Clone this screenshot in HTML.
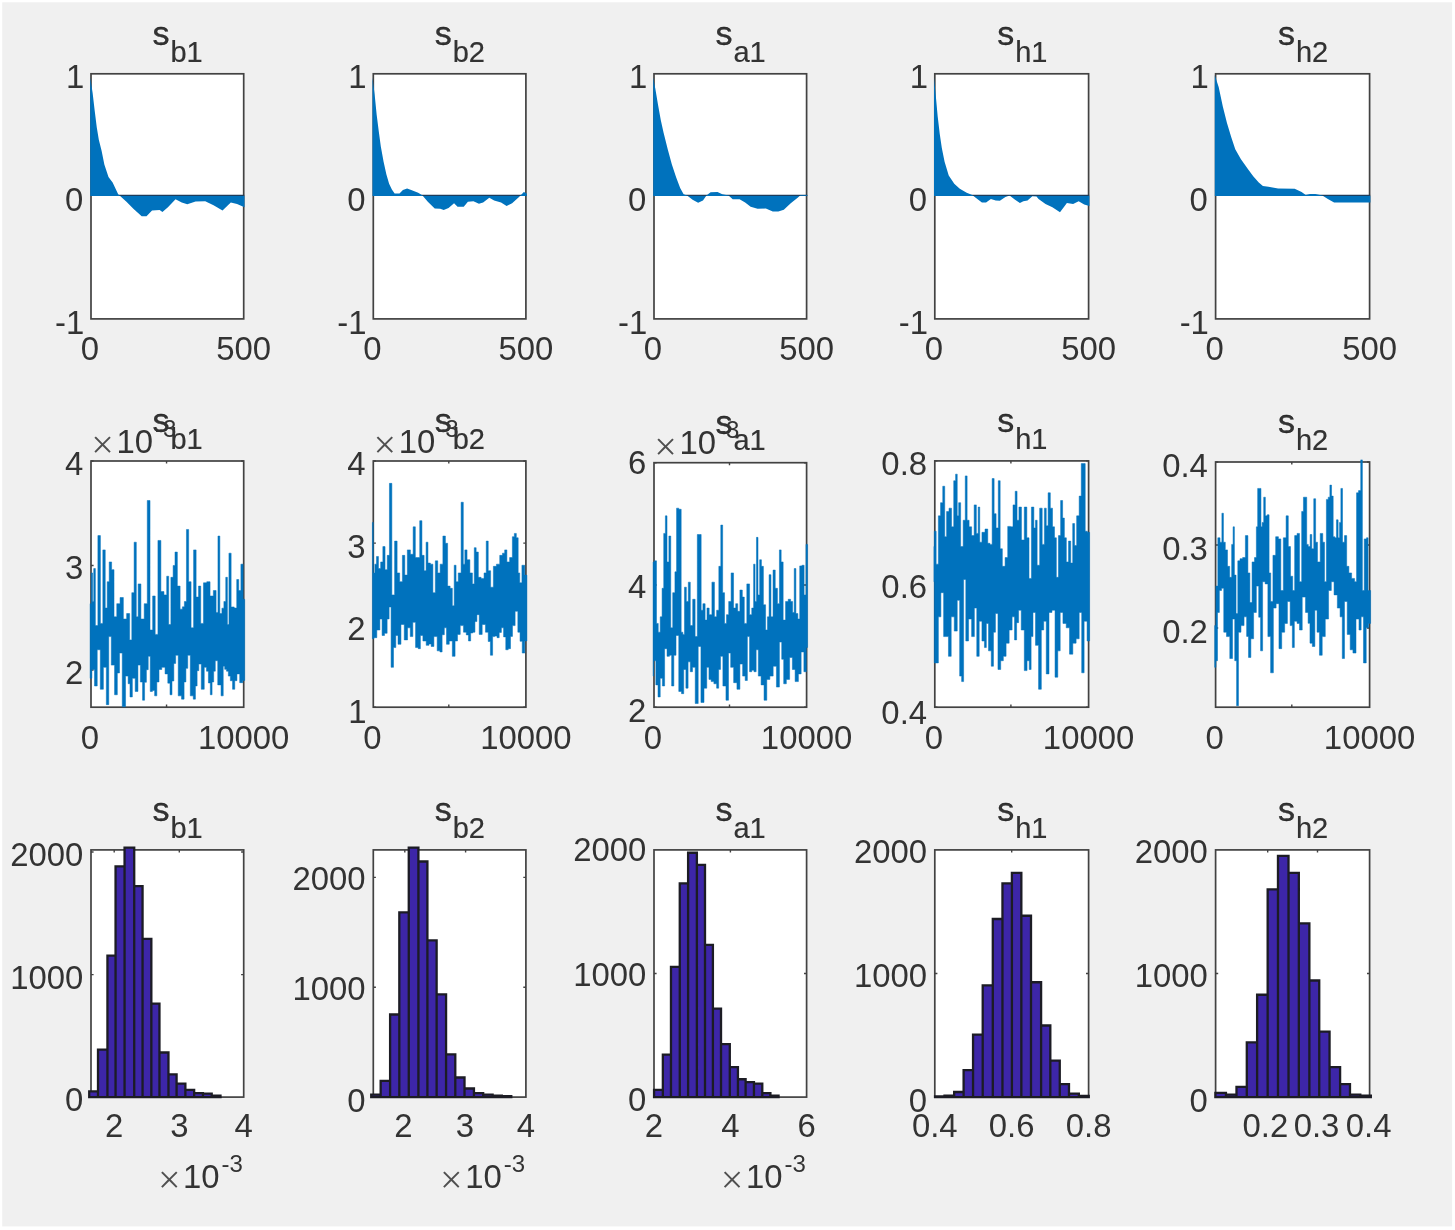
<!DOCTYPE html>
<html lang="en"><head><meta charset="utf-8"><title>MCMC diagnostics</title>
<style>html,body{margin:0;padding:0;background:#fff}body{width:1455px;height:1230px;overflow:hidden}svg{display:block;filter:blur(0.6px)}text{font-family:"Liberation Sans",sans-serif;fill:#333333}.mx{font-family:"Liberation Serif",serif;fill:#505050}</style>
</head><body>
<svg width="1455" height="1230" viewBox="0 0 1455 1230">
<rect width="1455" height="1230" fill="#fff"/>
<rect x="2.2" y="2.3" width="1449.9" height="1224.1" fill="#f0f0f0"/>
<rect x="91" y="73.8" width="152.7" height="245.1" fill="#fff"/>
<rect x="91" y="73.8" width="152.7" height="245.1" fill="none" stroke="#424242" stroke-width="1.7"/>
<path d="M91 195.4H244.3" stroke="#1d3c5c" stroke-width="1.3" fill="none"/>
<path d="M90.2 195.9L90.2 77.44L92.6 92.64L94.67 110.61L96.75 127.2L98.82 139.63L101.59 150.69L104.35 164.51L108.5 176.95L112.64 182.48L118.17 194.23L126.46 201.83L133.37 208.74L141.67 216.34L146.5 216.34L152.03 210.4L159.63 210.12L162.4 211.92L167.93 207.36L175.53 199.34L181.75 202.52L187.28 204.32L195.57 201.55L205.24 201.14L213.54 205.28L222.52 210.4L230.81 202.52L237.03 203.9L244.5 207.36L244.5 195.9Z" fill="#0072BD"/>
<text x="152.4" y="44.6" font-size="34" fill="#000" stroke="#000" stroke-width="0.3">s<tspan font-size="29" stroke-width="0.15" dx="1.0" dy="16.9">b1</tspan></text>
<text x="84.3" y="87.6" font-size="32.9" text-anchor="end">1</text>
<text x="83.3" y="210.55" font-size="32.9" text-anchor="end">0</text>
<text x="84.3" y="334.2" font-size="32.9" text-anchor="end">-1</text>
<text x="90" y="360.3" font-size="32.9" text-anchor="middle">0</text>
<text x="243.7" y="360.3" font-size="32.9" text-anchor="middle">500</text>
<rect x="373.3" y="73.8" width="152.6" height="245.1" fill="#fff"/>
<rect x="373.3" y="73.8" width="152.6" height="245.1" fill="none" stroke="#424242" stroke-width="1.7"/>
<path d="M373.3 195.4H526.5" stroke="#1d3c5c" stroke-width="1.3" fill="none"/>
<path d="M372.5 195.9L372.5 77.44L374.6 94.02L376.67 114.76L378.75 131.34L380.82 146.54L383.59 161.75L386.35 174.19L389.11 183.86L391.88 189.39L394.64 193.54L399.48 193.54L402.93 190.08L407.08 188.42L411.23 190.08L418.14 192.85L422.28 195.2L427.81 201.83L434.72 208.46L440.25 208.74L443.71 210.12L448.54 208.05L454.07 203.21L457.53 206.67L463.75 206.67L467.89 201.83L473.42 201.14L478.95 203.63L483.1 202.52L489.32 197.68L494.15 200.45L501.07 202.52L506.59 205.98L512.12 203.21L519.03 196.99L523.87 191.88L526.7 193.54L526.7 195.9Z" fill="#0072BD"/>
<text x="434.7" y="44.6" font-size="34" fill="#000" stroke="#000" stroke-width="0.3">s<tspan font-size="29" stroke-width="0.15" dx="1.0" dy="16.9">b2</tspan></text>
<text x="366.6" y="87.6" font-size="32.9" text-anchor="end">1</text>
<text x="365.6" y="210.55" font-size="32.9" text-anchor="end">0</text>
<text x="366.6" y="334.2" font-size="32.9" text-anchor="end">-1</text>
<text x="372.3" y="360.3" font-size="32.9" text-anchor="middle">0</text>
<text x="525.9" y="360.3" font-size="32.9" text-anchor="middle">500</text>
<rect x="654" y="73.8" width="152.6" height="245.1" fill="#fff"/>
<rect x="654" y="73.8" width="152.6" height="245.1" fill="none" stroke="#424242" stroke-width="1.7"/>
<path d="M654 195.4H807.2" stroke="#1d3c5c" stroke-width="1.3" fill="none"/>
<path d="M653.2 195.9L653.2 77.44L655.29 88.5L658.06 105.08L660.82 120.28L663.59 132.72L667.73 149.31L671.88 164.51L676.02 176.95L680.17 188.01L683.63 194.23L687.08 195.61L692.61 199.76L698.14 202.8L702.98 200.45L706.43 195.61L710.58 192.15L717.49 191.88L722.33 194.23L728.54 195.61L732.69 199.34L739.6 199.34L745.13 202.52L750.66 206.67L757.57 208.74L765.86 208.46L772.77 211.5L778.3 211.5L783.83 209.85L790.74 203.21L797.65 197.68L800.41 195.2L807.4 195.2L807.4 195.9Z" fill="#0072BD"/>
<text x="715.4" y="44.6" font-size="34" fill="#000" stroke="#000" stroke-width="0.3">s<tspan font-size="29" stroke-width="0.15" dx="1.0" dy="16.9">a1</tspan></text>
<text x="647.3" y="87.6" font-size="32.9" text-anchor="end">1</text>
<text x="646.3" y="210.55" font-size="32.9" text-anchor="end">0</text>
<text x="647.3" y="334.2" font-size="32.9" text-anchor="end">-1</text>
<text x="653" y="360.3" font-size="32.9" text-anchor="middle">0</text>
<text x="806.6" y="360.3" font-size="32.9" text-anchor="middle">500</text>
<rect x="934.8" y="73.8" width="153.8" height="245.1" fill="#fff"/>
<rect x="934.8" y="73.8" width="153.8" height="245.1" fill="none" stroke="#424242" stroke-width="1.7"/>
<path d="M934.8 195.4H1089.2" stroke="#1d3c5c" stroke-width="1.3" fill="none"/>
<path d="M934 195.9L934 77.44L936.02 98.17L937.67 116.14L939.75 134.11L941.82 147.93L944.59 161.75L948.73 175.57L954.26 183.86L959.79 188.7L966.7 192.85L972.23 194.92L975.68 197.68L981.9 202.52L986.05 202.52L990.89 199.07L995.72 200.45L999.87 200.72L1005.4 196.99L1009.54 195.61L1015.07 199.76L1019.91 202.93L1023.37 201.14L1027.51 200.45L1032.35 196.3L1036.5 196.58L1038.57 199.07L1045.48 203.9L1052.39 207.36L1059.99 212.2L1064.14 206.67L1066.9 202.93L1073.12 203.9L1078.65 201.14L1084.18 204.59L1089.4 205.98L1089.4 195.9Z" fill="#0072BD"/>
<text x="997.2" y="44.6" font-size="34" fill="#000" stroke="#000" stroke-width="0.3">s<tspan font-size="29" stroke-width="0.15" dx="1.0" dy="16.9">h1</tspan></text>
<text x="928.1" y="87.6" font-size="32.9" text-anchor="end">1</text>
<text x="927.1" y="210.55" font-size="32.9" text-anchor="end">0</text>
<text x="928.1" y="334.2" font-size="32.9" text-anchor="end">-1</text>
<text x="933.8" y="360.3" font-size="32.9" text-anchor="middle">0</text>
<text x="1088.6" y="360.3" font-size="32.9" text-anchor="middle">500</text>
<rect x="1215.6" y="73.8" width="154" height="245.1" fill="#fff"/>
<rect x="1215.6" y="73.8" width="154" height="245.1" fill="none" stroke="#424242" stroke-width="1.7"/>
<path d="M1215.6 195.4H1370.2" stroke="#1d3c5c" stroke-width="1.3" fill="none"/>
<path d="M1214.8 195.9L1214.8 75.37L1218.67 87.11L1222.82 106.46L1226.97 123.05L1231.11 136.87L1235.26 149.31L1240.79 158.98L1247.7 168.66L1253.23 176.26L1258.76 182.48L1262.9 185.93L1268.43 186.63L1278.11 188.42L1294.69 188.7L1301.6 191.88L1305.75 194.92L1309.89 193.95L1315.42 193.95L1322.33 195.61L1327.86 199.07L1334.08 202.52L1370.4 202.52L1370.4 195.9Z" fill="#0072BD"/>
<text x="1277.9" y="44.6" font-size="34" fill="#000" stroke="#000" stroke-width="0.3">s<tspan font-size="29" stroke-width="0.15" dx="1.0" dy="16.9">h2</tspan></text>
<text x="1208.9" y="87.6" font-size="32.9" text-anchor="end">1</text>
<text x="1207.9" y="210.55" font-size="32.9" text-anchor="end">0</text>
<text x="1208.9" y="334.2" font-size="32.9" text-anchor="end">-1</text>
<text x="1214.6" y="360.3" font-size="32.9" text-anchor="middle">0</text>
<text x="1369.6" y="360.3" font-size="32.9" text-anchor="middle">500</text>
<rect x="91" y="461" width="152.7" height="246.2" fill="#fff"/>
<rect x="91" y="461" width="152.7" height="246.2" fill="none" stroke="#424242" stroke-width="1.7"/>
<path d="M166.55 707.2v-2.6M166.55 461v2.6M91 461h2.6M243.7 461h-2.6M91 565.5h2.6M243.7 565.5h-2.6M91 670h2.6M243.7 670h-2.6" stroke="#424242" stroke-width="1.4" fill="none"/>
<path d="M90.1 603.66V603.66H91.3V572.93H92.62V601.46H93.72V568.54H95.37V625.61H97.89V535.61H100.41V623.41H102.83V549.88H105.24V608.05H107.22V581.71H109.2V561.95H111.61V569.63H114.02V616.83H116.77V603.66H120.06V597.51H123.35V619.02H126.65V613.54H129.61V639.88H131.8V592.68H134.11V542.2H136.3V616.83H138.17V583.9H140.91V619.02H144.21V603.66H147.28V500.49H150.02V630H152.66V595.98H155.18V634.39H157.93V540.44H160.89V591.59H163.96V594.88H166.71V576.22H168.68V624.51H170.88V577.32H173.13V565.46H174.99V552.07H177.35V586.1H180.1V609.15H182.4V606.84H184.38V601.46H186.46V529.46H188.66V581.71H191.07V627.8H193.6V549.88H196.12V597.07H198.54V586.1H200.73V623.41H203.48V582.8H206.77V581.71H210.06V595.98H213.35V590.49H216.1V612.44H217.96V536.05H219.83V613.54H221.91V608.18H223.89V601.46H225.76V577.32H227.4V624.51H228.94V553.17H231.13V606.95H234.21V608.05H236.73V579.51H238.71V590.49H240.9V564.15H243.1V599.27H244.7V680.49H242.77V682.68H239.7V673.9H236.95V680.66H234.76V689.27H232.56V680.76H230.37V676.1H228.35V671.24H226.52V669.37H224.7V666.22H223.23V695.85H221.04V684.88H217.74V660.73H215.29V671.16H213.68V682.01H212.07V694.76H210.32V682.94H208.41V671.23H206.51V667.32H204.24V689.27H201.28V664.02H198.79V670.66H197.11V685.94H195.43V699.15H193.27V695.85H190.3V655.24H187.74V668.36H185.91V681.95H184.09V699.15H181.52V695.85H178.23V655.24H175.67V663.42H173.84V681.03H172.01V694.76H170V683.14H167.8V673.9H165.06V667.32H161.77V669.51H159.02V681.94H156.83V695.85H154.63V690.55H152.44V691.46H150.24V656.34H148.23V669.7H146.4V682.27H144.57V700.24H142.56V682.04H140.37V665.12H137.95V691.46H135.21V678.29H132.35V696.95H129.99V683.73H128.13V676.1H125.55V706.83H122.26V653.05H119.51V672.96H117.32V694.76H114.57V665.12H111.28V636.59H108.76V704.63H106.34V667.32H103.38V689.27H100.3V649.76H97.23V685.98H94.49V669.51H91.85V678.29H90.1Z" fill="#0072BD" stroke="#0072BD" stroke-width="0.5" stroke-linejoin="round"/>
<text x="152.4" y="431.8" font-size="34" fill="#000" stroke="#000" stroke-width="0.3">s<tspan font-size="29" stroke-width="0.15" dx="1.0" dy="16.9">b1</tspan></text>
<text x="91.3" y="457.9" font-size="40" class="mx">×</text>
<text x="116.41" y="452.6" font-size="32.9">10</text>
<text x="154.9" y="436.7" font-size="24">-3</text>
<text x="83.3" y="474.8" font-size="32.9" text-anchor="end">4</text>
<text x="83.3" y="579.3" font-size="32.9" text-anchor="end">3</text>
<text x="83.3" y="684.2" font-size="32.9" text-anchor="end">2</text>
<text x="90" y="749.2" font-size="32.9" text-anchor="middle">0</text>
<text x="243.7" y="749.2" font-size="32.9" text-anchor="middle">10000</text>
<rect x="373.3" y="461" width="152.6" height="246.2" fill="#fff"/>
<rect x="373.3" y="461" width="152.6" height="246.2" fill="none" stroke="#424242" stroke-width="1.7"/>
<path d="M448.8 707.2v-2.6M448.8 461v2.6M373.3 461h2.6M525.9 461h-2.6M373.3 543.1h2.6M525.9 543.1h-2.6M373.3 625.1h2.6M525.9 625.1h-2.6M373.3 707.2h2.6M525.9 707.2h-2.6" stroke="#424242" stroke-width="1.4" fill="none"/>
<path d="M372.4 522.44V522.44H373.3V572.93H374.84V564.15H376.49V556.46H378.46V568.54H380.66V561.95H382.85V546.59H385.05V569.63H387.24V555.37H389.44V483.37H391.85V594.88H394.6V541.1H397.12V572.93H399.65V581.71H402.39V555.37H404.8V575.12H407.33V549.88H410.4V554.27H413.15V526.83H415.34V557.56H417.54V557.56H419.73V520.68H421.93V555.37H424.12V570.73H426.1V542.2H427.96V563.05H430.38V564.15H432.9V592.68H435.32V560.85H437.73V572.93H440.15V564.15H442.89V536.05H445.41V543.29H447.61V586.1H450.13V588.29H452.33V605.85H454.2V565.24H456.06V581.71H458.26V572.93H461.11V502.24H463.3V564.15H464.84V549.88H467.04V559.76H469.89V572.93H472.41V583.9H474.28V547.68H476.15V552.07H478.34V577.32H481.09V578.41H484.05V572.93H486.24V541.1H488.22V570.73H490.63V587.2H493.38V566.34H496.45V564.15H499.74V555.37H502.49V553.17H504.68V549.88H506.88V561.95H509.62V557.56H512.37V536.71H514.34V533.41H516.32V537.8H518.18V572.93H519.72V582.8H521.91V565.24H524.77V575.12H526.9V640.98H524.77V653.05H522.24V641.28H520.05V632.2H517.85V611.34H515.11V625.61H512.48V636.39H510.5V648.66H508.2V649.76H505.78V636.88H503.59V627.8H501.39V632.42H499.2V637.68H497V636.1H494.8V636.59H492.61V655.24H490.41V641.5H488.22V632.2H485.48V624.51H482.18V634.39H479.22V614.63H476.91V621.55H474.94V632.2H472.85V632.99H470.66V640.98H468.46V634.92H466.27V632.2H463.52V625.61H460.23V634.39H457.49V640.98H455.07V656.34H452.33V640.98H449.26V644.27H446.51V627.8H444.32V634.73H442.12V651.95H439.93V650.85H437.18V636.59H433.89V646.46H431.15V643.93H428.95V645.37H426.21V640.98H422.91V635.49H420.39V648.66H418.2V647.56H415.56V622.32H412.82V636.59H410.29V627.8H407.55V639.88H404.26V624.51H400.96V644.27H398V635.49H395.8V647.56H393.5V667.32H391.09V606.95H389.11V618.94H387.13V633.29H384.5V635.49H382.09V619.02H379.89V630H376.82V637.68H373.85V638.78H372.4Z" fill="#0072BD" stroke="#0072BD" stroke-width="0.5" stroke-linejoin="round"/>
<text x="434.7" y="431.8" font-size="34" fill="#000" stroke="#000" stroke-width="0.3">s<tspan font-size="29" stroke-width="0.15" dx="1.0" dy="16.9">b2</tspan></text>
<text x="373.6" y="457.9" font-size="40" class="mx">×</text>
<text x="398.71" y="452.6" font-size="32.9">10</text>
<text x="437.2" y="436.7" font-size="24">-3</text>
<text x="365.6" y="475" font-size="32.9" text-anchor="end">4</text>
<text x="365.6" y="558.1" font-size="32.9" text-anchor="end">3</text>
<text x="365.6" y="640.2" font-size="32.9" text-anchor="end">2</text>
<text x="366.6" y="723.4" font-size="32.9" text-anchor="end">1</text>
<text x="372.3" y="749.2" font-size="32.9" text-anchor="middle">0</text>
<text x="525.9" y="749.2" font-size="32.9" text-anchor="middle">10000</text>
<rect x="654" y="462.7" width="152.6" height="244.5" fill="#fff"/>
<rect x="654" y="462.7" width="152.6" height="244.5" fill="none" stroke="#424242" stroke-width="1.7"/>
<path d="M729.5 707.2v-2.6M729.5 462.7v2.6M654 462.7h2.6M806.6 462.7h-2.6M654 585h2.6M806.6 585h-2.6M654 707.2h2.6M806.6 707.2h-2.6" stroke="#424242" stroke-width="1.4" fill="none"/>
<path d="M653.1 561.95V561.95H654.51V560.85H656.49V623.41H658.24V632.2H660.22V616.83H662.09V588.29H663.73V533.41H665.38V515.85H667.02V561.95H668.89V536.05H670.76V627.8H672.73V592.68H674.93V571.83H676.57V508.17H678.77V509.27H681.18V632.2H682.83V634.39H684.48V587.2H686.34V601.46H688.32V582.15H690.29V625.61H692.71V599.27H695.12V636.59H697.32V534.51H699.51V534.51H701.16V610.24H702.91V603.66H705.11V620.12H706.98V608.05H709.17V614.63H711.91V582.15H714.44V616.83H716.63V610.24H718.83V566.34H720.8V525.07H722.67V592.68H724.54V623.41H726.51V614.63H728.71V601.46H731.12V572.93H733.54V608.05H735.73V603.66H737.71V611.34H739.9V590.05H742.32V597.07H744.29V623.41H746.82V583.9H749.56V614.63H751.76V608.05H753.62V564.15H755.05V601.46H756.48V537.37H758.01V594.88H759.66V559.76H761.41V566.34H763.39V604.76H765.59V630H767.45V616.83H769.1V574.68H770.96V616.83H773.05V570.07H775.24V588.29H777.44V603.66H779.41V549.88H781.17V561.95H783.15V620.12H785.56V601.46H788.2V599.27H790.61V601.46H792.59V612.44H794.23V568.54H795.88V613.54H797.85V619.02H799.72V565.9H801.91V565.24H804.11V594.88H805.98V544.39H807.6V647.56H806.3V671.71H803.89V651.95H801.15V673.9H798.4V681.59H795.11V669.51H792.37V657.44H789.62V679.39H786.33V683.78H783.7V659.26H781.72V642.07H779.41V687.07H776.45V666.22H773.16V676.1H769.87V679.39H766.79V700.24H764.05V684.88H761.09V676.1H758.34V649.76H756.15V671.71H753.95V670.15H751.76V671.71H749.56V636.59H747.37V680.49H745.17V676.1H742.65V664.02H739.9V689.27H736.94V682.68H733.65V667.32H730.68V653.05H728.49V700.24H725.96V685.98H722.89V656.34H720.53V669.39H718.66V688.17H716.63V683.78H713.89V681.59H711.15V679.39H708.95V667.32H706.76V688.17H704.01V702.44H700.94V646.46H698.2V703.54H695.23V667.32H692.49V671.71H690.29V661.83H688.1V688.17H685.9V669.51H683.71V693.66H681.51V691.46H678.77V635.49H676.02V655.24H673.83V685.98H671.63V655.24H669.44V656.34H667.02V648.66H664.61V685.98H662.41V678.29H660.22V696.95H658.02V684.88H655.83V660.73H653.63V676.1H653.1Z" fill="#0072BD" stroke="#0072BD" stroke-width="0.5" stroke-linejoin="round"/>
<text x="715.4" y="433.5" font-size="34" fill="#000" stroke="#000" stroke-width="0.3">s<tspan font-size="29" stroke-width="0.15" dx="1.0" dy="16.9">a1</tspan></text>
<text x="654.3" y="459.6" font-size="40" class="mx">×</text>
<text x="679.41" y="454.3" font-size="32.9">10</text>
<text x="717.9" y="438.4" font-size="24">-3</text>
<text x="646.3" y="474.1" font-size="32.9" text-anchor="end">6</text>
<text x="646.3" y="598.1" font-size="32.9" text-anchor="end">4</text>
<text x="646.3" y="722" font-size="32.9" text-anchor="end">2</text>
<text x="653" y="749.2" font-size="32.9" text-anchor="middle">0</text>
<text x="806.6" y="749.2" font-size="32.9" text-anchor="middle">10000</text>
<rect x="934.8" y="460.9" width="153.8" height="246.3" fill="#fff"/>
<rect x="934.8" y="460.9" width="153.8" height="246.3" fill="none" stroke="#424242" stroke-width="1.7"/>
<path d="M1010.9 707.2v-2.6M1010.9 460.9v2.6M934.8 460.9h2.6M1088.6 460.9h-2.6M934.8 584h2.6M1088.6 584h-2.6M934.8 707.2h2.6M1088.6 707.2h-2.6" stroke="#424242" stroke-width="1.4" fill="none"/>
<path d="M933.9 546.59V546.59H934.3V531.22H936.17V564.15H938.37V515.85H940.56V502.68H942.76V486.22H944.73V536.71H946.6V511.46H949.01V508.17H951.54V526.83H953.73V480.73H955.6V474.15H957.24V515.85H958.67V502.68H960.65V546.59H963.17V520.24H965.26V475.9H967.12V520.24H969.1V526.83H971.62V535.61H974.15V504.88H976.34V533.41H978.21V507.07H979.74V542.2H981.94V532.32H985.01V529.02H987.76V543.29H989.95V544.39H992.15V478.54H994.12V513.66H996.1V527.93H998.29V480.73H1000.16V548.78H1002.35V566.34H1005.1V557.56H1007.73V526.39H1010.48V526.83H1013V504.88H1015.2V491.27H1017.06V520.24H1018.93V507.07H1021.45V540H1024.3V507.07H1026.83V537.8H1029.02V578.41H1031.44V507.07H1033.85V527.93H1035.5V520.24H1037.15V565.24H1039.67V508.17H1042.2V544.39H1044.39V508.17H1046.26V525.73H1048.12V492.8H1050.32V508.17H1052.51V526.83H1054.49V537.8H1056.35V577.32H1058.44V535.61H1060.63V500.49H1062.61V518.05H1064.37V537.8H1066.34V561.95H1068.54V541.1H1070.73V563.05H1072.71V523.54H1074.57V545.49H1076.66V515.85H1079.18V496.1H1081.27V463.61H1083.24V463.61H1085.22V531.22H1087.3V532.32H1089.6V640.98H1087.09V621.22H1084.12V672.8H1081.71V612.44H1079.18V638.78H1076.11V643.17H1072.82V654.15H1069.52V627.8H1066.23V623.41H1062.94V612.44H1060.2V650.85H1057.78V677.2H1055.04V610.24H1051.96V612.44H1049V673.9H1046.26V621.22H1043.73V630H1041.32V689.27H1038.57V645.37H1035.5V612.44H1032.98V636.59H1031.11V669.51H1029.24V660.73H1027.05V670.61H1024.3V630H1021.23V610.24H1018.6V622.64H1016.62V639.88H1014.54V616.83H1012.12V630H1009.16V643.17H1006.09V656.34H1003.34V660.73H1000.71V669.51H997.96V613.54H995.44V632.2H993.46V666.22H991.27V650.85H988.52V623.41H986.33V647.56H984.46V640.98H981.94V621.22H979.2V656.34H976.78V608.05H974.37V636.59H971.62V619.02H968.55V640.98H965.8V579.51H963.61V681.59H961.63V676.1H959.66V600.37H957.24V631.1H954.28V616.83H951.21V656.34H948.46V636.59H946.05V636.59H943.63V592.68H940.89V616.83H938.37V662.93H936.17V662.93H934.3V581.71H933.9Z" fill="#0072BD" stroke="#0072BD" stroke-width="0.5" stroke-linejoin="round"/>
<text x="997.2" y="431.7" font-size="34" fill="#000" stroke="#000" stroke-width="0.3">s<tspan font-size="29" stroke-width="0.15" dx="1.0" dy="16.9">h1</tspan></text>
<text x="927.1" y="474.7" font-size="32.9" text-anchor="end">0.8</text>
<text x="927.1" y="597.8" font-size="32.9" text-anchor="end">0.6</text>
<text x="927.1" y="723.5" font-size="32.9" text-anchor="end">0.4</text>
<text x="933.8" y="749.2" font-size="32.9" text-anchor="middle">0</text>
<text x="1088.6" y="749.2" font-size="32.9" text-anchor="middle">10000</text>
<rect x="1215.6" y="462" width="154" height="245.2" fill="#fff"/>
<rect x="1215.6" y="462" width="154" height="245.2" fill="none" stroke="#424242" stroke-width="1.7"/>
<path d="M1291.8 707.2v-2.6M1291.8 462v2.6M1215.6 462h2.6M1369.6 462h-2.6M1215.6 545h2.6M1369.6 545h-2.6M1215.6 628h2.6M1369.6 628h-2.6" stroke="#424242" stroke-width="1.4" fill="none"/>
<path d="M1214.7 625.61V625.61H1215.85V586.1H1217.83V537.8H1220.02V542.2H1221.89V513.22H1223.43V542.2H1225.29V549.88H1227.49V566.34H1229.68V577.32H1231.66V544.39H1233.09V526.83H1234.4V575.12H1236.05V613.54H1237.8V560.85H1240V558.66H1242.63V557.56H1245.38V535.61H1247.9V572.93H1249.88V602.56H1252.07V561.95H1254.49V557.56H1256.35V526.83H1257.67V488.41H1259.32V488.41H1260.96V526.83H1262.17V522.44H1263.71V497.2H1265.35V515.85H1267.22V514.76H1269.09V572.93H1270.73V601.46H1272.93V555.37H1275.67V536.71H1278.41V538.9H1280.83V590.49H1283.35V537.8H1286.1V515.85H1288.29V546.59H1290.49V576.22H1292.68V590.49H1294.66V535.61H1297.07V533.41H1299.49V581.71H1301.68V511.46H1303.44V497.2H1305.2V497.2H1306.73V544.39H1308.27V546.59H1310.13V534.51H1311.78V548.78H1313.76V498.73H1315.62V542.2H1317.49V561.95H1320.23V533.41H1322.76V542.2H1324.51V581.71H1326.38V499.39H1328.24V497.2H1329.89V485.12H1331.54V496.1H1333.18V536.71H1334.83V537.8H1336.48V519.8H1338.12V537.8H1339.55V522.44H1340.87V488.41H1342.51V542.2H1344.49V535.61H1346.68V566.34H1348.88V572.93H1351.62V578.41H1354.59V581.71H1356.56V492.8H1358.54V490.61H1360.73V459.88H1362.38V590.49H1364.24V538.9H1366.44V537.8H1368.09V590.49H1369.18V590.49H1370.6V623.41H1368.63V627.8H1366.22V662.93H1363.48V616.83H1361.17V630H1358.98V619.02H1356.01V653.05H1352.94V649.76H1350.2V634.39H1347.23V601.46H1344.49V658.54H1342.29V616.83H1340.1V608.05H1337.35V594.88H1334.06V581.71H1331.32V590.49H1328.57V619.02H1325.28V636.59H1322.21V655.24H1319.46V632.2H1317.05V610.24H1314.85V646.46H1312.33V643.17H1309.97V623.34H1308.1V612.44H1305.52V597.07H1302.23V630H1299.49V623.41H1297.07V621.22H1294.33V647.56H1292.35V625.61H1290.16V601.46H1287.41V623.41H1284.67V632.2H1281.71V648.66H1278.96V603.66H1276.11V608.05H1273.37V672.8H1270.62V636.59H1267.88V583.9H1265.13V581.71H1262.61V650.85H1260.58V617.2H1258.71V586.1H1256.35V612.44H1253.61V638.78H1250.87V657.44H1248.51V636.4H1246.64V616.83H1244.06V625.61H1240.99V632.2H1238.46V705.73H1236.6V660.73H1234.73V619.02H1232.54V658.54H1229.79V636.59H1226.5V632.2H1223.76V588.29H1221.56V590.49H1219.37V612.44H1217.5V660.73H1215.85V667.32H1214.7Z" fill="#0072BD" stroke="#0072BD" stroke-width="0.5" stroke-linejoin="round"/>
<text x="1277.9" y="432.8" font-size="34" fill="#000" stroke="#000" stroke-width="0.3">s<tspan font-size="29" stroke-width="0.15" dx="1.0" dy="16.9">h2</tspan></text>
<text x="1207.9" y="477.3" font-size="32.9" text-anchor="end">0.4</text>
<text x="1207.9" y="560.3" font-size="32.9" text-anchor="end">0.3</text>
<text x="1207.9" y="643.3" font-size="32.9" text-anchor="end">0.2</text>
<text x="1214.6" y="749.2" font-size="32.9" text-anchor="middle">0</text>
<text x="1369.6" y="749.2" font-size="32.9" text-anchor="middle">10000</text>
<rect x="91" y="849.9" width="152.7" height="247.2" fill="#fff"/>
<rect x="91" y="849.9" width="152.7" height="247.2" fill="none" stroke="#424242" stroke-width="1.7"/>
<path d="M114.2 1097.1v-2.6M114.2 849.9v2.6M179.3 1097.1v-2.6M179.3 849.9v2.6M91 852h2.6M243.7 852h-2.6M91 974.6h2.6M243.7 974.6h-2.6" stroke="#424242" stroke-width="1.4" fill="none"/>
<path d="M89.22 1097.1V1091.34H98V1097.1ZM98 1097.1V1049.63H107.44V1097.1ZM107.44 1097.1V955.68H115.56V1097.1ZM115.56 1097.1V866.34H124.56V1097.1ZM124.56 1097.1V847.68H134.22V1097.1ZM134.22 1097.1V886.1H142.56V1097.1ZM142.56 1097.1V938.78H151.34V1097.1ZM151.34 1097.1V1003.54H159.46V1097.1ZM159.46 1097.1V1052.49H168.46V1097.1ZM168.46 1097.1V1074.44H176.59V1097.1ZM176.59 1097.1V1083.66H185.37V1097.1ZM185.37 1097.1V1089.8H194.15V1097.1ZM194.15 1097.1V1093.1H202.93V1097.1ZM202.93 1097.1V1093.54H211.71V1097.1ZM211.71 1097.1V1095.73H220.49V1097.1Z" fill="#3D26A8" stroke="#1c1c24" stroke-width="2.3" stroke-linejoin="miter"/>
<text x="152.4" y="820.7" font-size="34" fill="#000" stroke="#000" stroke-width="0.3">s<tspan font-size="29" stroke-width="0.15" dx="1.0" dy="16.9">b1</tspan></text>
<text x="83.3" y="866.2" font-size="32.9" text-anchor="end">2000</text>
<text x="83.3" y="988.6" font-size="32.9" text-anchor="end">1000</text>
<text x="83.3" y="1110.9" font-size="32.9" text-anchor="end">0</text>
<text x="114.2" y="1137.4" font-size="32.9" text-anchor="middle">2</text>
<text x="179.3" y="1137.4" font-size="32.9" text-anchor="middle">3</text>
<text x="243.7" y="1137.4" font-size="32.9" text-anchor="middle">4</text>
<text x="157.9" y="1193.4" font-size="40" class="mx">×</text>
<text x="183.01" y="1188.1" font-size="32.9">10</text>
<text x="221.5" y="1172.2" font-size="24">-3</text>
<rect x="373.3" y="849.9" width="152.6" height="247.2" fill="#fff"/>
<rect x="373.3" y="849.9" width="152.6" height="247.2" fill="none" stroke="#424242" stroke-width="1.7"/>
<path d="M404.8 1097.1v-2.6M404.8 849.9v2.6M465.6 1097.1v-2.6M465.6 849.9v2.6M373.3 877.4h2.6M525.9 877.4h-2.6M373.3 987.2h2.6M525.9 987.2h-2.6" stroke="#424242" stroke-width="1.4" fill="none"/>
<path d="M371.22 1097.1V1094.63H380.66V1097.1ZM380.66 1097.1V1080.8H390.1V1097.1ZM390.1 1097.1V1014.51H399.32V1097.1ZM399.32 1097.1V912.44H408.76V1097.1ZM408.76 1097.1V847.68H418.41V1097.1ZM418.41 1097.1V861.51H427.41V1097.1ZM427.41 1097.1V940.32H436.63V1097.1ZM436.63 1097.1V994.32H446.07V1097.1ZM446.07 1097.1V1054.46H455.29V1097.1ZM455.29 1097.1V1077.51H464.51V1097.1ZM464.51 1097.1V1088.49H473.95V1097.1ZM473.95 1097.1V1093.1H483.17V1097.1ZM483.17 1097.1V1094.63H492.61V1097.1ZM492.61 1097.1V1095.73H501.83V1097.1ZM501.83 1097.1V1096.17H511.27V1097.1Z" fill="#3D26A8" stroke="#1c1c24" stroke-width="2.3" stroke-linejoin="miter"/>
<text x="434.7" y="820.7" font-size="34" fill="#000" stroke="#000" stroke-width="0.3">s<tspan font-size="29" stroke-width="0.15" dx="1.0" dy="16.9">b2</tspan></text>
<text x="365.6" y="890" font-size="32.9" text-anchor="end">2000</text>
<text x="365.6" y="999.8" font-size="32.9" text-anchor="end">1000</text>
<text x="365.6" y="1111.8" font-size="32.9" text-anchor="end">0</text>
<text x="403.5" y="1137.4" font-size="32.9" text-anchor="middle">2</text>
<text x="465" y="1137.4" font-size="32.9" text-anchor="middle">3</text>
<text x="525.9" y="1137.4" font-size="32.9" text-anchor="middle">4</text>
<text x="440.1" y="1193.4" font-size="40" class="mx">×</text>
<text x="465.21" y="1188.1" font-size="32.9">10</text>
<text x="503.7" y="1172.2" font-size="24">-3</text>
<rect x="654" y="849.9" width="152.6" height="247.2" fill="#fff"/>
<rect x="654" y="849.9" width="152.6" height="247.2" fill="none" stroke="#424242" stroke-width="1.7"/>
<path d="M730.4 1097.1v-2.6M730.4 849.9v2.6M654 973.5h2.6M806.6 973.5h-2.6" stroke="#424242" stroke-width="1.4" fill="none"/>
<path d="M654.07 1097.1V1089.8H662.85V1097.1ZM662.85 1097.1V1054.68H670.98V1097.1ZM670.98 1097.1V966.88H679.76V1097.1ZM679.76 1097.1V883.46H688.1V1097.1ZM688.1 1097.1V852.73H696.88V1097.1ZM696.88 1097.1V864.8H705V1097.1ZM705 1097.1V944.93H712.9V1097.1ZM712.9 1097.1V1008.59H721.02V1097.1ZM721.02 1097.1V1044.15H729.8V1097.1ZM729.8 1097.1V1067.2H737.93V1097.1ZM737.93 1097.1V1079.27H745.61V1097.1ZM745.61 1097.1V1082.12H753.95V1097.1ZM753.95 1097.1V1083.66H762.29V1097.1ZM762.29 1097.1V1093.1H770.41V1097.1ZM770.41 1097.1V1095.73H778.54V1097.1Z" fill="#3D26A8" stroke="#1c1c24" stroke-width="2.3" stroke-linejoin="miter"/>
<text x="715.4" y="820.7" font-size="34" fill="#000" stroke="#000" stroke-width="0.3">s<tspan font-size="29" stroke-width="0.15" dx="1.0" dy="16.9">a1</tspan></text>
<text x="646.3" y="861.4" font-size="32.9" text-anchor="end">2000</text>
<text x="646.3" y="986.1" font-size="32.9" text-anchor="end">1000</text>
<text x="646.3" y="1110.9" font-size="32.9" text-anchor="end">0</text>
<text x="654" y="1137.4" font-size="32.9" text-anchor="middle">2</text>
<text x="730.4" y="1137.4" font-size="32.9" text-anchor="middle">4</text>
<text x="806.6" y="1137.4" font-size="32.9" text-anchor="middle">6</text>
<text x="720.8" y="1193.4" font-size="40" class="mx">×</text>
<text x="745.91" y="1188.1" font-size="32.9">10</text>
<text x="784.4" y="1172.2" font-size="24">-3</text>
<rect x="934.8" y="849.9" width="153.8" height="247.2" fill="#fff"/>
<rect x="934.8" y="849.9" width="153.8" height="247.2" fill="none" stroke="#424242" stroke-width="1.7"/>
<path d="M1011.7 1097.1v-2.6M1011.7 849.9v2.6M934.8 973.5h2.6M1088.6 973.5h-2.6" stroke="#424242" stroke-width="1.4" fill="none"/>
<path d="M935.07 1097.1V1096.39H944.51V1097.1ZM944.51 1097.1V1095.73H954.17V1097.1ZM954.17 1097.1V1092H963.61V1097.1ZM963.61 1097.1V1070.05H973.05V1097.1ZM973.05 1097.1V1034.71H982.71V1097.1ZM982.71 1097.1V985.32H992.8V1097.1ZM992.8 1097.1V919.02H1002.46V1097.1ZM1002.46 1097.1V883.46H1011.9V1097.1ZM1011.9 1097.1V872.93H1021.34V1097.1ZM1021.34 1097.1V915.73H1031V1097.1ZM1031 1097.1V982.24H1041.1V1097.1ZM1041.1 1097.1V1025.49H1050.32V1097.1ZM1050.32 1097.1V1060.61H1059.76V1097.1ZM1059.76 1097.1V1084.1H1068.98V1097.1ZM1068.98 1097.1V1093.54H1078.85V1097.1ZM1078.85 1097.1V1095.95H1088.73V1097.1Z" fill="#3D26A8" stroke="#1c1c24" stroke-width="2.3" stroke-linejoin="miter"/>
<text x="997.2" y="820.7" font-size="34" fill="#000" stroke="#000" stroke-width="0.3">s<tspan font-size="29" stroke-width="0.15" dx="1.0" dy="16.9">h1</tspan></text>
<text x="927.1" y="862.7" font-size="32.9" text-anchor="end">2000</text>
<text x="927.1" y="986.8" font-size="32.9" text-anchor="end">1000</text>
<text x="927.1" y="1112.1" font-size="32.9" text-anchor="end">0</text>
<text x="934.8" y="1137.4" font-size="32.9" text-anchor="middle">0.4</text>
<text x="1011.7" y="1137.4" font-size="32.9" text-anchor="middle">0.6</text>
<text x="1088.6" y="1137.4" font-size="32.9" text-anchor="middle">0.8</text>
<rect x="1215.6" y="849.9" width="154" height="247.2" fill="#fff"/>
<rect x="1215.6" y="849.9" width="154" height="247.2" fill="none" stroke="#424242" stroke-width="1.7"/>
<path d="M1267.7 1097.1v-2.6M1267.7 849.9v2.6M1317.5 1097.1v-2.6M1317.5 849.9v2.6M1215.6 973.5h2.6M1369.6 973.5h-2.6" stroke="#424242" stroke-width="1.4" fill="none"/>
<path d="M1215.41 1097.1V1092.88H1225.95V1097.1ZM1225.95 1097.1V1094.63H1236.49V1097.1ZM1236.49 1097.1V1086.95H1246.8V1097.1ZM1246.8 1097.1V1042.39H1257.12V1097.1ZM1257.12 1097.1V994.76H1267.66V1097.1ZM1267.66 1097.1V889.39H1277.98V1097.1ZM1277.98 1097.1V855.8H1288.51V1097.1ZM1288.51 1097.1V872.93H1298.83V1097.1ZM1298.83 1097.1V923.41H1309.37V1097.1ZM1309.37 1097.1V980.49H1319.24V1097.1ZM1319.24 1097.1V1031.63H1329.56V1097.1ZM1329.56 1097.1V1067.2H1340.1V1097.1ZM1340.1 1097.1V1084.1H1349.98V1097.1ZM1349.98 1097.1V1094.63H1360.29V1097.1ZM1360.29 1097.1V1095.73H1370.83V1097.1Z" fill="#3D26A8" stroke="#1c1c24" stroke-width="2.3" stroke-linejoin="miter"/>
<text x="1277.9" y="820.7" font-size="34" fill="#000" stroke="#000" stroke-width="0.3">s<tspan font-size="29" stroke-width="0.15" dx="1.0" dy="16.9">h2</tspan></text>
<text x="1207.9" y="862.7" font-size="32.9" text-anchor="end">2000</text>
<text x="1207.9" y="986.8" font-size="32.9" text-anchor="end">1000</text>
<text x="1207.9" y="1112.1" font-size="32.9" text-anchor="end">0</text>
<text x="1265.4" y="1137.4" font-size="32.9" text-anchor="middle">0.2</text>
<text x="1316.5" y="1137.4" font-size="32.9" text-anchor="middle">0.3</text>
<text x="1368.6" y="1137.4" font-size="32.9" text-anchor="middle">0.4</text>
</svg>
</body></html>
